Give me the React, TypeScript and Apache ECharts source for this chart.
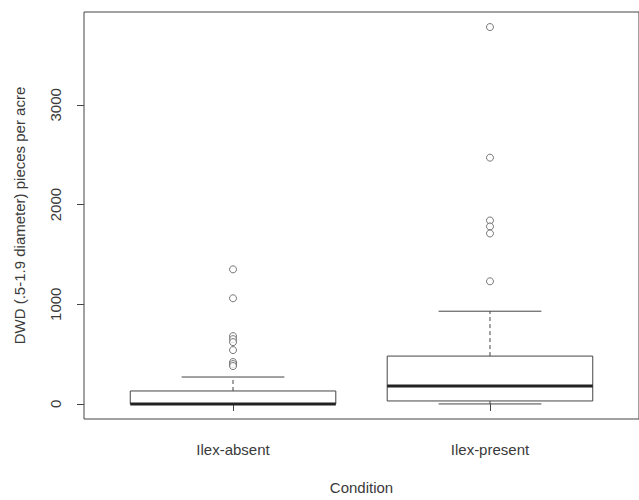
import React, { useEffect, useRef } from "react";
import * as echarts from "echarts";

// Groups on the x axis (placed at 1 and 2)
const categories = ["Ilex-absent", "Ilex-present"];

// Five-number summaries per group: lower whisker, Q1, median, Q3, upper whisker
const lowerWhisker = [0, 0];
const q1Values = [0, 30];
const medians = [0, 180];
const q3Values = [130, 480];
const upperWhisker = [270, 930];

// Points beyond the whiskers
const absentOutliers = [1350, 1060, 680, 650, 620, 540, 420, 400, 380];
const presentOutliers = [3780, 2470, 1840, 1780, 1710, 1230];

const yTicks = [0, 1000, 2000, 3000];

const LINE = "#444";
const TEXT = "#3a3a3a";
const FONT = "Liberation Sans, Arial, sans-serif";
const FONT_SIZE = 15;

export default function App() {
  const ref = useRef<HTMLDivElement>(null);

  useEffect(() => {
    if (!ref.current) return;
    const chart = echarts.init(ref.current, null, { renderer: "svg" });

    const boxData = categories.map((_, i) => [
      i + 1,
      lowerWhisker[i],
      q1Values[i],
      medians[i],
      q3Values[i],
      upperWhisker[i],
    ]);

    const outlierData = [
      ...absentOutliers.map((v) => [1, v]),
      ...presentOutliers.map((v) => [2, v]),
    ];

    chart.setOption({
      animation: false,
      backgroundColor: "#fff",
      grid: {
        left: 84,
        top: 12,
        right: -7,
        bottom: 81,
        show: true,
        borderColor: LINE,
        borderWidth: 1,
        backgroundColor: "transparent",
      },
      xAxis: {
        type: "value",
        min: 0.42,
        max: 2.58,
        name: "Condition",
        nameLocation: "middle",
        nameGap: 61,
        nameTextStyle: { color: TEXT, fontFamily: FONT, fontSize: FONT_SIZE },
        axisLine: { show: false },
        splitLine: { show: false },
        axisTick: {
          show: true,
          inside: false,
          length: 7,
          customValues: [1, 2],
          lineStyle: { color: LINE },
        },
        axisLabel: {
          customValues: [1, 2],
          margin: 23,
          color: TEXT,
          fontFamily: FONT,
          fontSize: FONT_SIZE,
          formatter: (v: number) => categories[Math.round(v) - 1] ?? "",
        },
      },
      yAxis: {
        type: "value",
        min: -151,
        max: 3931,
        name: "DWD (.5-1.9 diameter) pieces per acre",
        nameLocation: "middle",
        nameRotate: 90,
        nameGap: 57,
        nameTextStyle: { color: TEXT, fontFamily: FONT, fontSize: FONT_SIZE },
        axisLine: { show: false },
        splitLine: { show: false },
        axisTick: {
          show: true,
          inside: false,
          length: 7,
          customValues: yTicks,
          lineStyle: { color: LINE },
        },
        axisLabel: {
          customValues: yTicks,
          rotate: 90,
          margin: 21,
          color: TEXT,
          fontFamily: FONT,
          fontSize: FONT_SIZE,
          formatter: (v: number) => String(v),
        },
      },
      series: [
        {
          type: "custom",
          data: boxData,
          encode: { x: 0, y: [1, 2, 3, 4, 5] },
          renderItem: (_params: any, api: any) => {
            const x = api.value(0);
            const lo = api.value(1);
            const q1 = api.value(2);
            const med = api.value(3);
            const q3 = api.value(4);
            const hi = api.value(5);
            const [xl, yq3] = api.coord([x - 0.4, q3]);
            const [xr, yq1] = api.coord([x + 0.4, q1]);
            const [xc, ymed] = api.coord([x, med]);
            const yhi = api.coord([x, hi])[1];
            const ylo = api.coord([x, lo])[1];
            const cl = api.coord([x - 0.2, 0])[0];
            const cr = api.coord([x + 0.2, 0])[0];
            const thin = { stroke: LINE, lineWidth: 1, fill: null };
            return {
              type: "group",
              children: [
                {
                  type: "line",
                  shape: { x1: xc, y1: yq3, x2: xc, y2: yhi },
                  style: { ...thin, lineDash: [4, 3] },
                },
                {
                  type: "line",
                  shape: { x1: xc, y1: yq1, x2: xc, y2: ylo },
                  style: { ...thin, lineDash: [4, 3] },
                },
                { type: "line", shape: { x1: cl, y1: yhi, x2: cr, y2: yhi }, style: thin },
                { type: "line", shape: { x1: cl, y1: ylo, x2: cr, y2: ylo }, style: thin },
                {
                  type: "rect",
                  shape: { x: xl, y: yq3, width: xr - xl, height: yq1 - yq3 },
                  style: { stroke: LINE, lineWidth: 1, fill: "#fff" },
                },
                {
                  type: "line",
                  shape: { x1: xl, y1: ymed, x2: xr, y2: ymed },
                  style: { stroke: "#222", lineWidth: 3 },
                },
              ],
            };
          },
          z: 2,
        },
        {
          type: "scatter",
          data: outlierData,
          symbol: "circle",
          symbolSize: 7,
          itemStyle: { color: "#fff", borderColor: "#555", borderWidth: 1 },
          z: 3,
        },
      ],
    });

    return () => chart.dispose();
  }, []);

  return (
    <div
      ref={ref}
      style={{ position: "absolute", left: 0, top: 0, width: 639, height: 500 }}
    />
  );
}
